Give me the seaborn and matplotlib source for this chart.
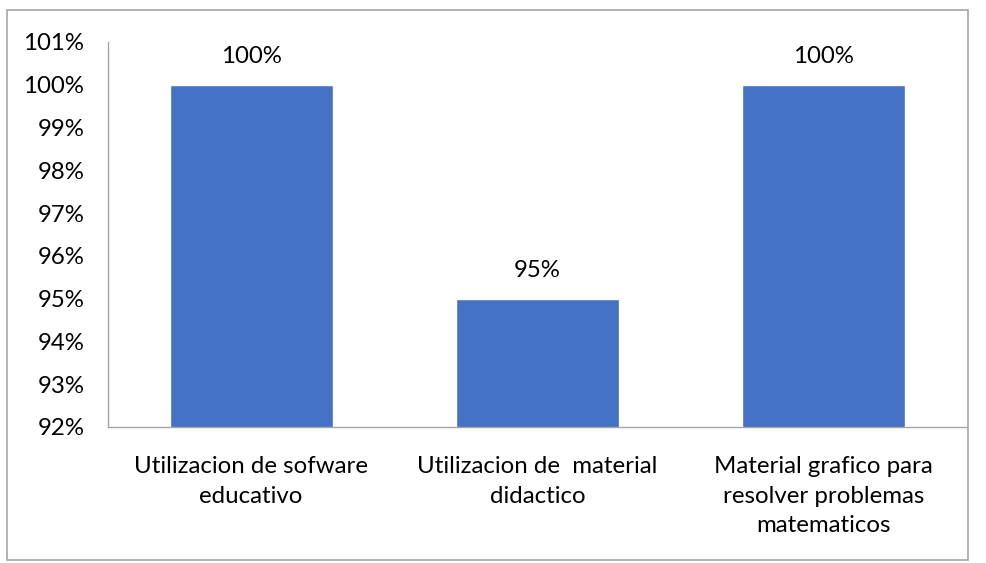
import numpy as np
import pandas as pd
import seaborn as sns
import matplotlib.pyplot as plt
from matplotlib.patches import Rectangle
from matplotlib.ticker import FuncFormatter

# Datos del grafico
categorias = ["Utilizacion de sofware\neducativo",
              "Utilizacion de  material\ndidactico",
              "Material grafico para\nresolver problemas\nmatematicos"]
porcentajes = [100, 95, 100]
etiquetas = ["100%", "95%", "100%"]

df = pd.DataFrame({"categoria": categorias, "valor": porcentajes})

sns.set_style("white")
plt.rcParams['font.family'] = ['Lato', 'DejaVu Sans']

fig = plt.figure(figsize=(9.86, 5.63), dpi=100)
ax = fig.add_axes([108 / 986, 1 - 427 / 563, (967 - 108) / 986, (427 - 42) / 563])

sns.barplot(data=df, x="categoria", y="valor", color="#4472C4", width=0.57,
            saturation=1, ax=ax)

ax.set_ylim(92, 101)
ax.set_yticks(np.arange(92, 102, 1))
ax.yaxis.set_major_formatter(FuncFormatter(lambda v, p: f"{v:.0f}%"))
ax.set_xlabel("")
ax.set_ylabel("")
ax.tick_params(axis="both", length=0, labelsize=17.3, colors="#000000")
ax.tick_params(axis="y", pad=17)
ax.tick_params(axis="x", pad=21)
for lbl in ax.get_xticklabels():
    lbl.set_linespacing(1.5)

for s in ["top", "right"]:
    ax.spines[s].set_visible(False)
for s in ["left", "bottom"]:
    ax.spines[s].set_color("#A6A6A6")
    ax.spines[s].set_linewidth(1)

# Etiquetas de valores
for i, (v, t) in enumerate(zip(porcentajes, etiquetas)):
    ax.text(i, v + 0.42, t, ha="center", va="bottom", fontsize=17.3, color="#000000")

# Borde del grafico
fig.patches.append(Rectangle((7 / 986, 1 - 560 / 563), (968 - 7) / 986, (560 - 10) / 563,
                             transform=fig.transFigure, fill=False,
                             edgecolor="#A6A6A6", linewidth=1.2))

fig.savefig("out.png", dpi=100)
